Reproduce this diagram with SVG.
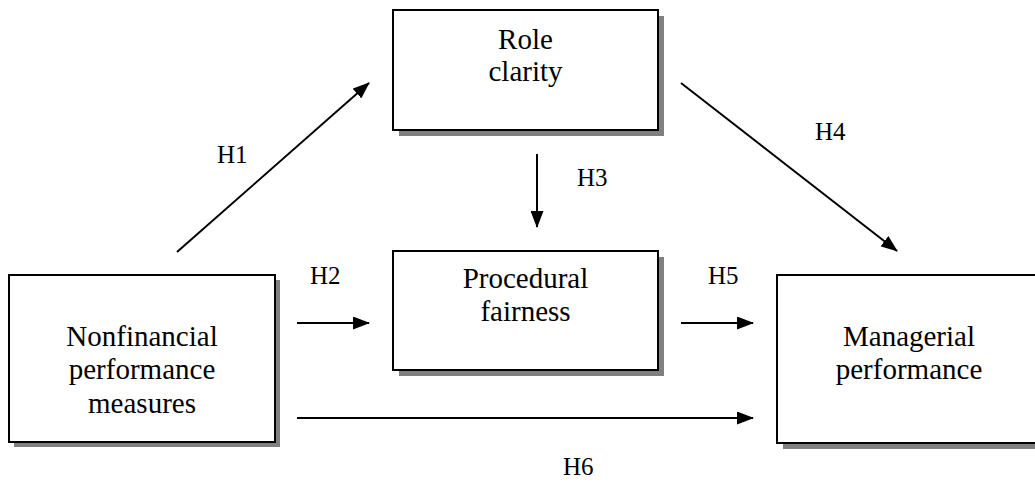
<svg xmlns="http://www.w3.org/2000/svg" width="1035" height="483" viewBox="0 0 1035 483">
<style>
.box{fill:#fff;stroke:#000;stroke-width:2}
.shadow{fill:#808080}
.t{font-size:29px;fill:#000;text-anchor:middle}
.lbl{font-size:25px;fill:#000}
.c{stroke:#000;stroke-width:2;fill:none;marker-end:url(#ah)}
</style>
<defs>
<marker id="ah" viewBox="0 0 17 13" refX="16" refY="6.5" markerWidth="17" markerHeight="13" markerUnits="userSpaceOnUse" orient="auto">
<path d="M0,0 L17,6.5 L0,13 Z" fill="#000"/>
</marker>
</defs>
<g font-family="'Liberation Serif', 'Times New Roman', 'DejaVu Serif', serif">
<g id="role-clarity">
<rect class="shadow" x="399" y="16" width="265" height="120"/>
<rect class="box" x="393" y="10" width="265" height="120"/>
<text class="t" x="525.5" y="49">Role</text>
<text class="t" x="525.5" y="81">clarity</text>
</g>
<g id="procedural-fairness">
<rect class="shadow" x="399" y="257" width="265" height="119"/>
<rect class="box" x="393" y="251" width="265" height="119"/>
<text class="t" x="525.5" y="288">Procedural</text>
<text class="t" x="525.5" y="321">fairness</text>
</g>
<g id="nonfinancial">
<rect class="shadow" x="14" y="280" width="266" height="167"/>
<rect class="box" x="9" y="275" width="266" height="167"/>
<text class="t" x="142" y="346">Nonfinancial</text>
<text class="t" x="142" y="379">performance</text>
<text class="t" x="142" y="413">measures</text>
</g>
<g id="managerial-performance">
<rect class="shadow" x="783" y="281" width="265" height="168"/>
<rect class="box" x="777" y="275" width="265" height="168"/>
<text class="t" x="909" y="346">Managerial</text>
<text class="t" x="909" y="379">performance</text>
</g>
<g id="connectors">
<line class="c" x1="177" y1="252" x2="369" y2="83"/>
<line class="c" x1="681" y1="83" x2="897" y2="251"/>
<line class="c" x1="537" y1="154" x2="537" y2="227"/>
<line class="c" x1="297" y1="323" x2="369" y2="323"/>
<line class="c" x1="681" y1="323" x2="753" y2="323"/>
<line class="c" x1="297" y1="418" x2="753" y2="418"/>
</g>
<g id="labels">
<text class="lbl" x="217" y="163">H1</text>
<text class="lbl" x="310" y="284">H2</text>
<text class="lbl" x="577" y="186">H3</text>
<text class="lbl" x="815" y="140">H4</text>
<text class="lbl" x="708" y="284">H5</text>
<text class="lbl" x="563" y="475">H6</text>
</g>
</g>
</svg>
